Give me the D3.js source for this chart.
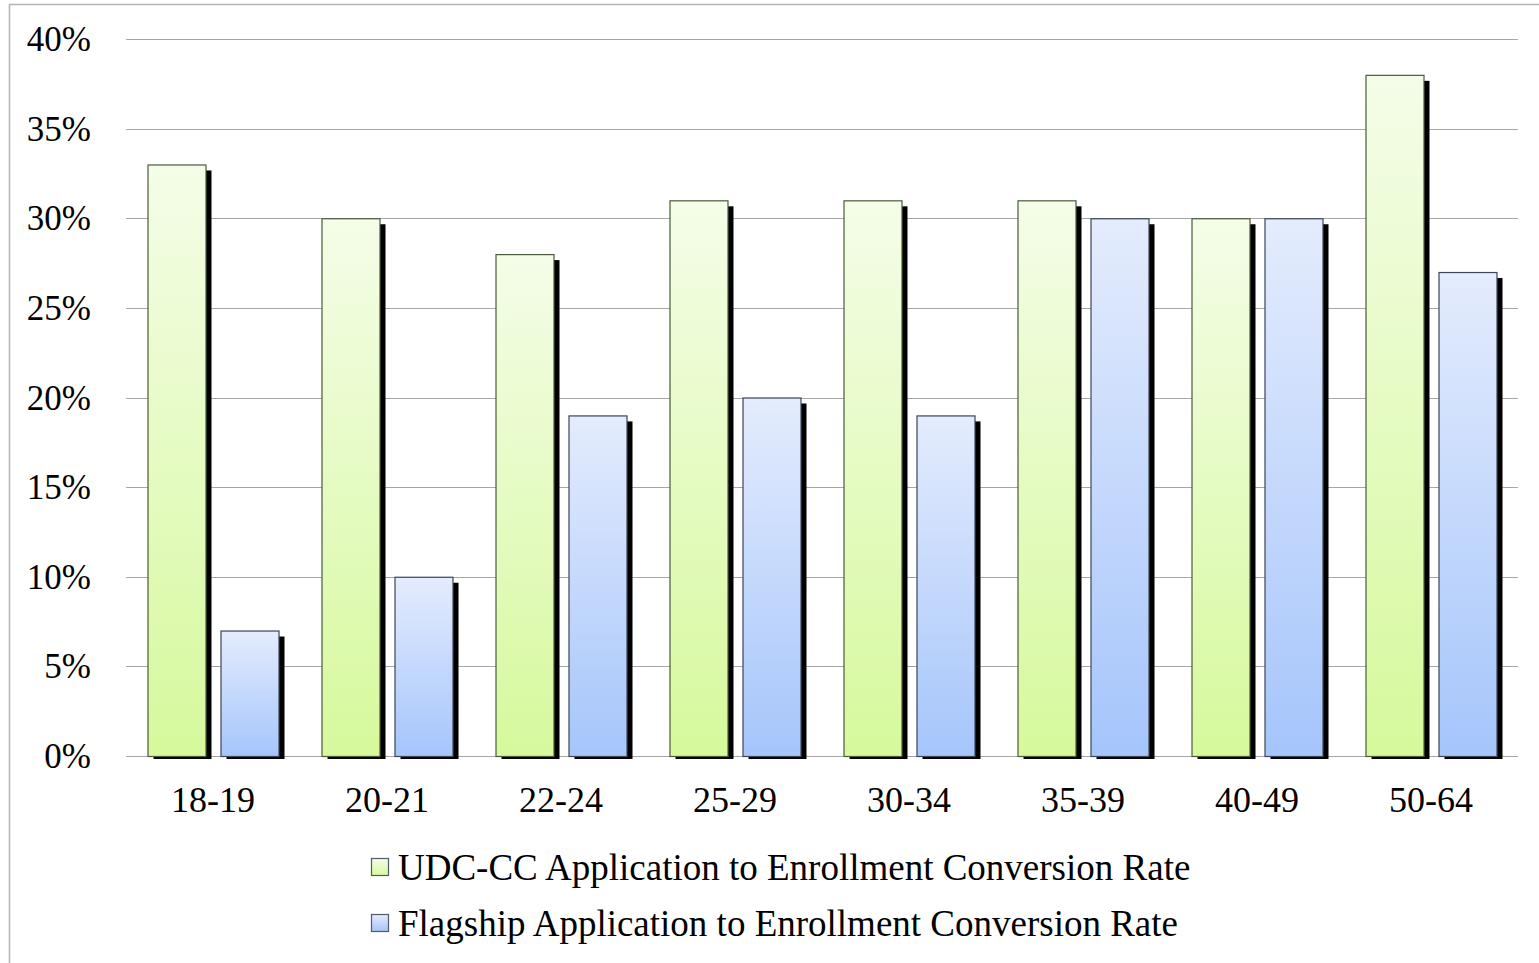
<!DOCTYPE html>
<html>
<head>
<meta charset="utf-8">
<script src="https://cdn.jsdelivr.net/npm/d3@7"></script>
<style>
  html, body { margin: 0; padding: 0; background: #fff; }
  svg { display: block; }
  text { font-family: "Liberation Serif", "Times New Roman", serif; fill: #000; }
</style>
</head>
<body>
<svg id="chart" width="1539" height="963"></svg>
<script>
// Conversion rates by age group
const categories = ["18-19", "20-21", "22-24", "25-29", "30-34", "35-39", "40-49", "50-64"];
const udcRates = [0.33, 0.30, 0.28, 0.31, 0.31, 0.31, 0.30, 0.38];
const flagshipRates = [0.07, 0.10, 0.19, 0.20, 0.19, 0.30, 0.30, 0.27];
const seriesNames = [
  "UDC-CC Application to Enrollment Conversion Rate",
  "Flagship Application to Enrollment Conversion Rate"
];
const yTicks = [0, 0.05, 0.10, 0.15, 0.20, 0.25, 0.30, 0.35, 0.40];

const svg = d3.select("#chart");
const W = 1539, H = 963;
const plot = { left: 126, right: 1518, top: 39, bottom: 756 };

// outer frame
svg.append("rect")
  .attr("x", 9.5).attr("y", 4.5)
  .attr("width", W + 20).attr("height", H + 20)
  .attr("fill", "none").attr("stroke", "#b4b4b4").attr("stroke-width", 1.5);

const defs = svg.append("defs");
const gradients = [
  { id: "gGreen", top: "#f4fde8", bottom: "#d6f99c" },
  { id: "gBlue", top: "#e4ecfd", bottom: "#a5c5fb" }
];
gradients.forEach(g => {
  const lg = defs.append("linearGradient").attr("id", g.id)
    .attr("x1", 0).attr("y1", 0).attr("x2", 0).attr("y2", 1);
  lg.append("stop").attr("offset", "0%").attr("stop-color", g.top);
  lg.append("stop").attr("offset", "100%").attr("stop-color", g.bottom);
});
defs.append("clipPath").attr("id", "shadowClip")
  .append("rect").attr("x", 0).attr("y", 0).attr("width", W).attr("height", plot.bottom + 3);

const x = d3.scaleBand().domain(categories).range([plot.left, plot.right]).paddingInner(0).paddingOuter(0);
const y = d3.scaleLinear().domain([0, 0.40]).range([plot.bottom, plot.top]);

// gridlines
svg.append("g").selectAll("line").data(yTicks).join("line")
  .attr("x1", plot.left).attr("x2", plot.right)
  .attr("y1", d => Math.round(y(d)) + 0.5).attr("y2", d => Math.round(y(d)) + 0.5)
  .attr("stroke", "#a6a6a6").attr("stroke-width", 1.2);

// y axis labels
const yAxis = d3.axisLeft(y).tickValues(yTicks).tickFormat(d3.format(".0%")).tickSize(0).tickPadding(0);
const yg = svg.append("g").attr("transform", `translate(91,0)`).call(yAxis);
yg.select(".domain").remove();
yg.selectAll("text").attr("font-size", 35).attr("font-family", "Liberation Serif").attr("dy", "0.33em").attr("fill", "#000");

// x axis labels
const xAxis = d3.axisBottom(x).tickSize(0).tickPadding(0);
const xg = svg.append("g").attr("transform", `translate(0,${plot.bottom})`).call(xAxis);
xg.select(".domain").remove();
xg.selectAll("text").attr("font-size", 36).attr("font-family", "Liberation Serif").attr("y", 43).attr("dy", "0.35em").attr("fill", "#000");

// bars: two per age group with a black drop shadow
const barW = 58, gap = 15;
const groupOffset = (x.bandwidth() - (barW * 2 + gap)) / 2;
const series = [udcRates, flagshipRates];
const shadowD = 6;

series.forEach((vals, si) => {
  const bx = (c) => x(c) + groupOffset + si * (barW + gap);
  const g = svg.append("g");
  g.append("g").attr("clip-path", "url(#shadowClip)")
    .selectAll("rect").data(categories).join("rect")
    .attr("x", c => bx(c) + shadowD)
    .attr("y", (c, i) => y(vals[i]) + shadowD)
    .attr("width", barW)
    .attr("height", (c, i) => y(0) - y(vals[i]))
    .attr("fill", "#000");
  g.selectAll("rect.bar").data(categories).join("rect")
    .attr("class", "bar")
    .attr("x", c => bx(c) + 0.5)
    .attr("y", (c, i) => y(vals[i]) + 0.5)
    .attr("width", barW)
    .attr("height", (c, i) => y(0) - y(vals[i]))
    .attr("fill", `url(#${gradients[si].id})`)
    .attr("stroke", si === 0 ? "#4a5a3a" : "#3c4658").attr("stroke-width", 1.2);
});

// legend
const legend = svg.append("g");
seriesNames.forEach((name, i) => {
  const ly = 867 + i * 56;
  legend.append("rect")
    .attr("x", 371.5).attr("y", ly - 8.5).attr("width", 17).attr("height", 17)
    .attr("fill", `url(#${gradients[i].id})`).attr("stroke", "#505a68").attr("stroke-width", 1.2);
  legend.append("text")
    .attr("x", 398).attr("y", ly).attr("dy", "0.35em")
    .attr("font-size", 37).text(name);
});
</script>
</body>
</html>
